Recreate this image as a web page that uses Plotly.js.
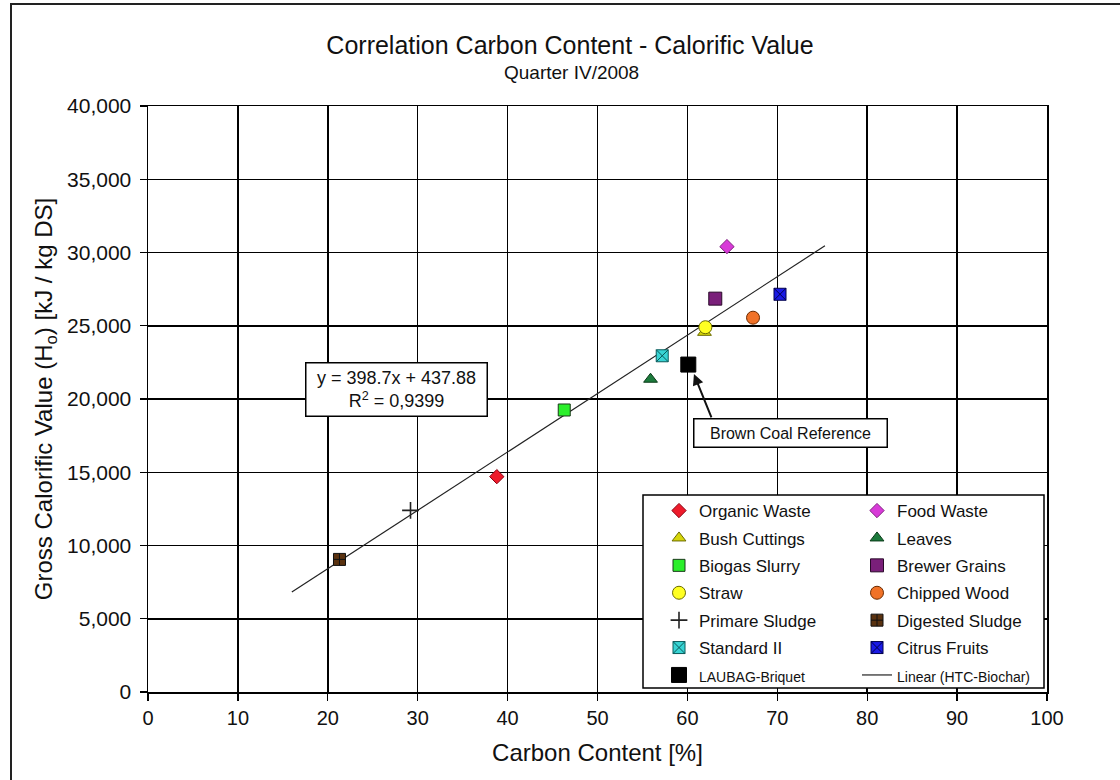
<!DOCTYPE html>
<html>
<head>
<meta charset="utf-8">
<script src="https://cdn.plot.ly/plotly-3.0.1.min.js"></script>
<style>html,body{margin:0;padding:0;background:#fff;}#chart{width:1120px;height:780px;}</style>
</head>
<body>
<div id="chart"></div>
<script>
// ---- data ----
var sampleNames = ["Organic Waste", "Food Waste", "Bush Cuttings", "Leaves", "Biogas Slurry", "Brewer Grains",
  "Straw", "Chipped Wood", "Primare Sludge", "Digested Sludge", "Standard II", "Citrus Fruits", "LAUBAG-Briquet"];
var carbonContent = [38.8, 64.4, 61.9, 55.9, 46.3, 63.1, 62.0, 67.3, 29.2, 21.3, 57.2, 70.3, 60.1];
var calorificValue = [14700, 30400, 24550, 21350, 19250, 26850, 24900, 25550, 12400, 9050, 22950, 27150, 22350];
var trendName = "Linear (HTC-Biochar)";
var trendX = [16.0, 75.3];
var trendY = [6820, 30460];
var xTicks = [0, 10, 20, 30, 40, 50, 60, 70, 80, 90, 100];
var yTicks = [0, 5000, 10000, 15000, 20000, 25000, 30000, 35000, 40000];
var equationText = "y = 398.7x + 437.88<br>R<sup>2</sup> = 0,9399";
var calloutText = "Brown Coal Reference";

// ---- styles ----
var symbols = ["diamond", "diamond", "triangle-up", "triangle-up", "square", "square",
  "circle", "circle", "cross-thin-open", "square-cross", "square-x", "square-x", "square"];
var fills = ["#ee1b2b", "#d83ad8", "#d6d60a", "#1c7a3c", "#2bef2b", "#7a1f7a",
  "#ffff22", "#f07228", "#222222", "#5a3210", "#38d4d4", "#1a1ae6", "#000000"];
var edges = ["#8a0010", "#802080", "#6b6b00", "#0a3a18", "#1a3a1a", "#2a0a2a",
  "#6b6b00", "#6a2a00", "#222222", "#111111", "#0a5a5a", "#00004a", "#000000"];
var sizes = [11, 11, 12, 12, 12, 13, 13, 13, 12, 12, 12, 12, 15];

var FONT = "Liberation Sans, Arial, sans-serif";
var traces = [];
traces.push({
  type: "scatter", mode: "lines", x: trendX, y: trendY, name: '<span style="font-size:14px">' + trendName + '</span>',
  line: {color: "#222", width: 1.2}, legend: "legend2", legendgroup: "g13", legendrank: 1100, hoverinfo: "skip"
});
for (var i = 0; i < sampleNames.length; i++) {
  var nm = sampleNames[i];
  if (nm === "LAUBAG-Briquet") nm = '<span style="font-size:14px">' + nm + '</span>';
  traces.push({
    type: "scatter", mode: "markers",
    x: [carbonContent[i]], y: [calorificValue[i]], name: nm,
    legend: (i % 2 === 0) ? "legend" : "legend2",
    legendgroup: "g" + i, legendrank: 100 + i,
    marker: {symbol: symbols[i], color: fills[i], size: sizes[i],
      line: {color: edges[i], width: symbols[i] === "cross-thin-open" ? 1.6 : 1}}
  });
}

function px2x(p) { return (p - 148) / 899; }
function py2y(p) { return (692 - p) / 586; }

var legendCommon = {
  orientation: "v", bgcolor: "rgba(0,0,0,0)", borderwidth: 0,
  font: {family: FONT, size: 17, color: "#111"}, tracegroupgap: 2.3,
  xanchor: "left", yanchor: "top", traceorder: "grouped", itemsizing: "trace"
};
var legend1 = Object.assign({}, legendCommon, {x: px2x(659), y: py2y(493)});
var legend2 = Object.assign({}, legendCommon, {x: px2x(857), y: py2y(493)});

var layout = {
  width: 1120, height: 780,
  margin: {l: 148, r: 73, t: 106, b: 88},
  paper_bgcolor: "#ffffff", plot_bgcolor: "#ffffff",
  font: {family: FONT, color: "#111"},
  title: {text: "Correlation Carbon Content - Calorific Value", font: {family: FONT, size: 25, color: "#111"},
    xref: "container", yref: "container", x: 570 / 1120, y: 1 - 45 / 780, xanchor: "center", yanchor: "middle"},
  showlegend: true,
  legend: legend1,
  legend2: legend2,
  xaxis: {
    range: [0, 100], tickvals: xTicks, showgrid: true, gridcolor: "#000", gridwidth: 1.5,
    zeroline: false, showline: true, mirror: true, linecolor: "#000", linewidth: 1.5,
    ticks: "outside", ticklen: 7, tickcolor: "#000", tickwidth: 1.3,
    tickfont: {family: FONT, size: 20, color: "#111"},
    title: {text: "Carbon Content [%]", font: {family: FONT, size: 24, color: "#111"}, standoff: 16}
  },
  yaxis: {
    range: [0, 40000], tickvals: yTicks, tickformat: ",d", showgrid: true, gridcolor: "#000", gridwidth: 1.5,
    zeroline: false, showline: true, mirror: true, linecolor: "#000", linewidth: 1.5,
    ticks: "outside", ticklen: 7, tickcolor: "#000", tickwidth: 1.3, ticklabelstandoff: 4,
    tickfont: {family: FONT, size: 21, color: "#111"},
    title: {text: "Gross Calorific Value (H<sub>o</sub>) [kJ / kg DS]", font: {family: FONT, size: 24, color: "#111"}, standoff: 7}
  },
  shapes: [
    {type: "rect", xref: "paper", yref: "paper", x0: px2x(643), x1: px2x(1044), y0: py2y(688), y1: py2y(495),
      line: {color: "#000", width: 1.5}, fillcolor: "#ffffff", layer: "above"},
    {type: "path", xref: "paper", yref: "paper",
      path: "M " + px2x(11) + " " + py2y(780) + " L " + px2x(11) + " " + py2y(4) + " L " + px2x(1120) + " " + py2y(4),
      line: {color: "#222", width: 2}}
  ],
  annotations: [
    {text: "Quarter IV/2008", xref: "paper", yref: "paper", x: px2x(571), y: py2y(72), showarrow: false,
      xanchor: "center", yanchor: "middle", font: {family: FONT, size: 19, color: "#111"}},
    {text: equationText, xref: "x", yref: "y", x: 27.6, y: 20680, showarrow: false,
      font: {family: FONT, size: 18, color: "#111"}, bgcolor: "#ffffff", bordercolor: "#000", borderwidth: 1.5,
      borderpad: 3, width: 174, height: 46, align: "center", valign: "middle"},
    {text: calloutText, xref: "x", yref: "y", x: 71.47, y: 17710, showarrow: false,
      font: {family: FONT, size: 16, color: "#111"}, bgcolor: "#ffffff", bordercolor: "#000", borderwidth: 1.5,
      borderpad: 3, width: 186, height: 21},
    {text: "", xref: "x", yref: "y", x: 60.73, y: 21700, axref: "x", ayref: "y", ax: 62.74, ay: 18640,
      showarrow: true, arrowhead: 2, arrowsize: 1.1, arrowwidth: 2, arrowcolor: "#111", standoff: 0}
  ]
};

Plotly.newPlot("chart", traces, layout, {displayModeBar: false, staticPlot: true});
</script>
</body>
</html>
